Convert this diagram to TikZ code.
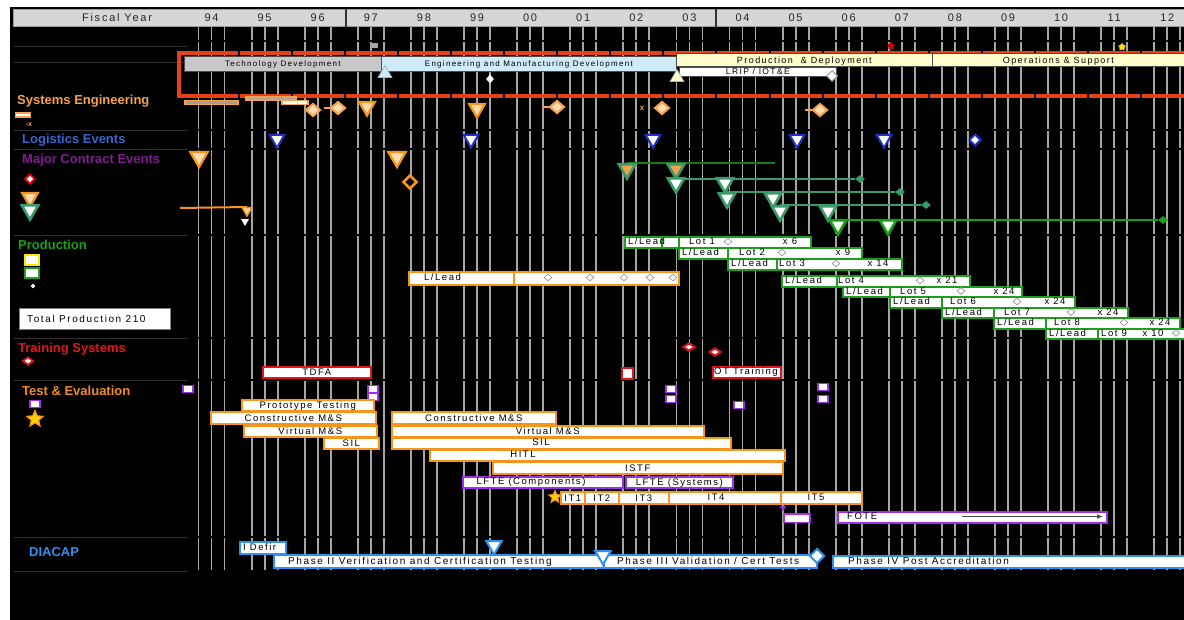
\documentclass[tikz,border=0pt]{standalone}
\usepackage{fontspec}
\setmainfont{Liberation Sans}[LetterSpace=16]
\newfontfamily\catfont{Liberation Sans}
\usetikzlibrary{shapes.geometric,arrows.meta}
\newcommand\fsz[1]{\fontsize{#1}{#1}\selectfont}
\definecolor{hdrgray}{HTML}{D6D6D6}
\definecolor{gridgray}{HTML}{A6A6A6}
\definecolor{redl}{HTML}{E5401A}
\definecolor{tdgray}{HTML}{C8C8C8}
\definecolor{emdblue}{HTML}{CFEAF8}
\definecolor{pdyellow}{HTML}{FFFFCC}
\definecolor{seorange}{HTML}{F6A24E}
\definecolor{barorange}{HTML}{F7941D}
\definecolor{lightorange}{HTML}{FFDDB0}
\definecolor{logblue}{HTML}{3A66D0}
\definecolor{tridark}{HTML}{2030C0}
\definecolor{mcpurple}{HTML}{7E1E8E}
\definecolor{prodgreen}{HTML}{1E9E1E}
\definecolor{seagreen}{HTML}{3A9A6A}
\definecolor{darkgr}{HTML}{1C7A1C}
\definecolor{brightgr}{HTML}{18A018}
\definecolor{trred}{HTML}{E2141E}
\definecolor{teorange}{HTML}{F28C1C}
\definecolor{tepurple}{HTML}{A030E8}
\definecolor{diablue}{HTML}{2E90F0}
\definecolor{sepgray}{HTML}{303030}
\newcommand\bx[7]{\node[#1,anchor=north west,minimum width={(#5-#3)*1pt},minimum height={(#6-#4)*1pt}] (#2) at (#3,#4) {#7};}
\tikzset{
 vl/.style={gridgray,line width=1.8pt},
 sepl/.style={sepgray,line width=0.8pt},
 hdr/.style={fill=hdrgray,draw=gray!80,line width=0.6pt,inner sep=0pt},
 yr/.style={font=\fsz{11},text=black!85,inner sep=0pt,text height=8.9pt,text depth=1pt},
 ph/.style={draw=gray!60!black,line width=0.7pt,inner sep=0pt,font=\fsz{8},text height=6.7pt,text depth=1pt},
 bb/.style={fill=white,line width=1.6pt,inner sep=0pt,font=\fsz{9.5},text height=7.8pt,text depth=1pt},
 ob/.style={bb,draw=barorange},
 gb/.style={bb,draw=prodgreen},
 pb/.style={bb,draw=tepurple},
 db/.style={bb,draw=diablue},
 rb/.style={bb,draw=trred},
 cat/.style={font=\catfont\bfseries\fsz{13},anchor=west,inner sep=0pt},
 tri/.style={regular polygon,regular polygon sides=3,shape border rotate=180,inner sep=0pt,anchor=north},
 otri/.style={tri,fill=lightorange,draw=barorange,line width=2.2pt,minimum size=18pt},
 btri/.style={tri,fill=white,draw=tridark,line width=2pt,minimum size=17pt},
 gtri/.style={tri,fill=white,draw=seagreen,line width=2.6pt,minimum size=19pt},
 dtri/.style={tri,fill=white,draw=diablue,line width=2pt,minimum size=18pt},
 odia/.style={diamond,fill=lightorange,draw=seorange,line width=2pt,minimum width=15pt,minimum height=13pt,inner sep=0pt},
 wdia/.style={diamond,fill=white,draw=gray!80,line width=0.7pt,minimum width=8pt,minimum height=7pt,inner sep=0pt},
 pfl/.style={fill=white,draw=tepurple,line width=1.6pt,minimum width=10pt,minimum height=7pt,inner sep=0pt},
 lt/.style={anchor=west,inner sep=0pt,font=\fsz{9.5},text height=7.8pt,text depth=1pt},
 ct/.style={inner sep=0pt,font=\fsz{9.5},text height=7.8pt,text depth=1pt},
 dt/.style={lt,font=\fsz{10},text height=8.2pt},
 gline/.style={line width=2.2pt},
 gend/.style={diamond,minimum width=10pt,minimum height=8pt,inner sep=0pt},
}
\begin{document}
\begin{tikzpicture}[x=1pt,y=-1pt]
\useasboundingbox (0,0) rectangle (1184,620);
\fill[white] (0,0) rectangle (1184,620);
\fill[black] (10,7) rectangle (1184,620);
% header
\node[hdr,anchor=north west,minimum width=333pt,minimum height=17pt] (hA) at (13,9) {};
\node[hdr,anchor=north west,minimum width=370pt,minimum height=17pt] (hB) at (346,9) {};
\node[hdr,anchor=north west,minimum width=468pt,minimum height=17pt] (hC) at (716,9) {};
\draw[gray!40!black,line width=1.3pt] (hB.north west) -- (hB.south west) (hC.north west) -- (hC.south west);
\node[yr] (fy) at (117,17.5) {Fiscal Year};
\foreach \t [count=\i from 0] in {94,95,96,97,98,99,00,01,02,03,04,05,06,07,08,09,10,11,12}
  \node[yr] (yr\i) at ({211.5+53.1*\i},17.5) {\t};
% grid
\foreach \k in {0,...,18}{
 \foreach \d in {-13,0,13}{
  \foreach \a/\b in {27/40,42/129,131/148,150/234,236/337,339/379,381/536,538/570}{
   \draw[vl] ({211.5+53.1*\k+\d},\a) -- ({211.5+53.1*\k+\d},\b);
 }}}
\foreach \yy in {46,62,130,149,235,338,380,537,571}
  \draw[sepl] (14,\yy) -- (188,\yy);
% red frame
\draw[redl,line width=3.2pt] (177,53) -- (1184,53);
\draw[redl,line width=3.2pt] (177,96) -- (1184,96);
\draw[redl,line width=4pt] (179,52) -- (179,98);
\foreach \k in {0,...,17}{
  \fill[black] ({237.5+53.1*\k},51) rectangle ++(2,4);
  \fill[black] ({237.5+53.1*\k},94) rectangle ++(2,4);
}
% phases
\bx{ph,fill=tdgray}{td}{184}{56}{381}{71}{Technology Development}
\bx{ph,fill=emdblue}{emd}{381}{56}{676}{71}{Engineering and Manufacturing Development}
\bx{ph,fill=pdyellow,font=\fsz{9},text height=7.4pt}{pd}{676}{53}{932}{66}{Production \ \& Deployment}
\bx{ph,fill=pdyellow,font=\fsz{9},text height=7.4pt}{os}{932}{53}{1184}{66}{Operations \& Support}
\bx{ph,fill=white,font=\fsz{8.5},text height=7pt}{lrip}{679}{67}{836}{76}{LRIP / IOT\&E}
\node[regular polygon,regular polygon sides=3,anchor=south,fill=emdblue,draw=gray!60,line width=0.8pt,minimum size=16pt,inner sep=0pt] (msA) at (385,78) {};
\node[regular polygon,regular polygon sides=3,anchor=south,fill=pdyellow,draw=gray!60,line width=0.8pt,minimum size=16pt,inner sep=0pt] (msC) at (677,82) {};
\node[wdia,minimum width=11pt,minimum height=11pt,line width=1pt] (frp) at (832,76) {};
\node[wdia,draw=white,minimum width=7pt,minimum height=8pt] (wd1) at (490,79) {};
\node[fill=gray!70,minimum width=6pt,minimum height=5pt,inner sep=0pt] (gsq) at (375,45.5) {};
\node[star,star points=5,fill=red!80!black,minimum size=8pt,inner sep=0pt] (rstar) at (891,46) {};
\node[star,star points=5,fill=yellow!80!orange,draw=black!60,minimum size=8pt,inner sep=0pt] (ystar) at (1122,47) {};
% ===== Systems Engineering
\node[cat,text=seorange] (lse) at (17,101) {Systems Engineering};
\node[fill=white,draw=seorange,line width=1.3pt,minimum width=15pt,minimum height=4pt,inner sep=0pt] (lse1) at (23,115) {};
\node[text=seorange,inner sep=0pt,font=\catfont\bfseries\fsz{7}] (lse2) at (29,124.5) {-x};
\node[fill=gray!75,draw=seorange,line width=1.2pt,minimum width=53pt,minimum height=4pt,inner sep=0pt] (seb1) at (211.5,102.5) {};
\node[fill=gray!75,draw=seorange,line width=1.2pt,minimum width=50pt,minimum height=3pt,inner sep=0pt] (seb2) at (271,98.5) {};
\node[fill=white,draw=seorange,line width=1.2pt,minimum width=26pt,minimum height=4pt,inner sep=0pt] (seb3) at (295,102.5) {};
\foreach \n/\x/\y in {sd1/313/110,sd2/338/108,sd3/557/107,sd4/662/108,sd5/820/110}
  \node[odia] (\n) at (\x,\y) {};
\draw[seorange,line width=2pt] (sd2.west) -- ++(-6,0);
\draw[seorange,line width=2pt] (sd3.west) -- ++(-7,0);
\draw[seorange,line width=2pt] (sd5.west) -- ++(-7,0);
\node[otri] (st1) at (367,101) {};
\node[otri] (st2) at (477,103) {};
\node[text=seorange,inner sep=0pt,font=\catfont\bfseries\fsz{8}] (sx) at (642,108) {x};
% ===== Logistics
\node[cat,text=logblue] (llog) at (22,140) {Logistics Events};
\foreach \n/\x in {lt1/277,lt2/471,lt3/653,lt4/797,lt5/884}
  \node[btri] (\n) at (\x,134) {};
\node[diamond,fill=white,draw=tridark,line width=2pt,minimum size=12pt,inner sep=0pt] (ld1) at (975,140) {};
% ===== Major contract events
\node[cat,text=mcpurple] (lmc) at (22,160) {Major Contract Events};
\node[diamond,fill=white,draw=red,line width=1.8pt,minimum size=10pt,inner sep=0pt] (lmc1) at (30,179) {};
\node[otri] (lmc2) at (30,192) {};
\node[gtri] (lmc3) at (30,204) {};
\node[otri,minimum size=20pt] (mt1) at (199,151) {};
\node[otri,minimum size=20pt] (mt2) at (397,151) {};
\node[diamond,fill=black,draw=barorange,line width=2.6pt,minimum size=14pt,inner sep=0pt] (md1) at (410,182) {};
\coordinate (ol1) at (180,208);
\node[otri,minimum size=11pt,line width=1.5pt] (mt3) at (247,207) {};
\draw[barorange,line width=2pt] (ol1) -- (mt3.north);
\node[tri,fill=white,minimum size=9pt] (mt4) at (245,219) {};
% green lines
\coordinate (g1s) at (627,163); \coordinate (g1e) at (775,163);
\draw[gline,darkgr] (g1s) -- (g1e);
\coordinate (g2s) at (676,179); \node[gend,fill=seagreen] (g2e) at (860,179) {};
\draw[gline,seagreen] (g2s) -- (g2e);
\coordinate (g3s) at (727,192); \node[gend,fill=seagreen] (g3e) at (900,192) {};
\draw[gline,seagreen] (g3s) -- (g3e);
\coordinate (g4s) at (780,205); \node[gend,fill=seagreen] (g4e) at (926,205) {};
\draw[gline,seagreen] (g4s) -- (g4e);
\coordinate (g5s) at (836,220); \node[gend,fill=brightgr] (g5e) at (1163,220) {};
\draw[gline,brightgr] (g5s) -- (g5e);
\node[gtri,fill=seorange] (gt11) at (627,163) {};
\node[gtri,fill=seorange] (gt12) at (676,163) {};
\node[gtri] (gt21) at (676,177) {};
\node[gtri] (gt22) at (725,177) {};
\node[gtri] (gt31) at (727,192) {};
\node[gtri] (gt32) at (773,192) {};
\node[gtri] (gt41) at (780,205) {};
\node[gtri] (gt42) at (828,205) {};
\node[gtri,draw=brightgr] (gt51) at (838,219) {};
\node[gtri,draw=brightgr] (gt52) at (888,219) {};
% ===== Production
\node[cat,text=prodgreen] (lpr) at (18,245) {Production};
\node[fill=white,draw=yellow!90!orange,line width=1.6pt,minimum width=14pt,minimum height=10pt,inner sep=0pt] (lpr1) at (32,260) {};
\node[fill=white,draw=prodgreen,line width=1.6pt,minimum width=14pt,minimum height=10pt,inner sep=0pt] (lpr2) at (32,273) {};
\node[diamond,fill=white,minimum size=5pt,inner sep=0pt] (lpr3) at (33,286) {};
\bx{fill=white,draw=gray,line width=0.6pt,inner sep=0pt}{tot}{19}{308}{170}{329}{}
\node[dt] (tott) at (27,318.5) {Total Production 210};
\bx{ob}{oll}{408}{271}{513}{284}{}
\bx{ob}{olp}{513}{271}{678}{284}{}
\node[lt] (ollt) at (424,277.5) {L/Lead};
\foreach \x [count=\i] in {548,590,624,650,673} \node[wdia] (od\i) at (\x,277.5) {};
% lots
\bx{gb}{ll1a}{624}{236}{661}{247}{}
\bx{gb}{ll1b}{661}{236}{678}{247}{}
\node[lt] (ll1t) at (628,241.5) {L/Lead};
\foreach \i/\la/\lb/\lc/\ya/\yb/\tx/\dx/\xx/\xn in {
  1/661/678/810/236/247/689/728/790/x 6,
  2/678/727/861/247/258/739/782/843/x 9,
  3/727/776/901/258/269/779/836/878/x 14,
  4/781/836/969/275/286/838/920/947/x 21,
  5/842/889/1021/286/296/900/961/1004/x 24,
  6/889/941/1074/296/307/950/1017/1055/x 24,
  7/941/993/1127/307/317/1004/1071/1108/x 24,
  8/993/1045/1179/317/328/1054/1124/1160/x 24,
  9/1045/1097/1190/328/338/1101/1176/1153/x 10}{
  \ifnum\i>1
   \bx{gb}{ll\i}{\la}{\ya}{\lb}{\yb}{}
   \node[lt] (llt\i) at ({\la+4},{(\ya+\yb)/2}) {L/Lead};
  \fi
  \bx{gb}{lot\i}{\lb}{\ya}{\lc}{\yb}{}
  \node[lt] (lott\i) at (\tx,{(\ya+\yb)/2}) {Lot \i};
  \node[wdia] (lotd\i) at (\dx,{(\ya+\yb)/2}) {};
  \node[ct] (lotx\i) at (\xx,{(\ya+\yb)/2}) {\xn};
}
% ===== Training
\node[cat,text=trred] (ltr) at (18,349) {Training Systems};
\node[diamond,fill=white,draw=trred,line width=1.8pt,minimum width=11pt,minimum height=8pt,inner sep=0pt] (ltr1) at (28,361) {};
\node[diamond,fill=white,draw=trred,line width=2pt,minimum width=12pt,minimum height=8pt,inner sep=0pt] (trd1) at (689,347) {};
\node[diamond,fill=white,draw=trred,line width=2pt,minimum width=12pt,minimum height=8pt,inner sep=0pt] (trd2) at (715,352) {};
\bx{rb}{tdfa}{262}{366}{370}{377}{TDFA}
\bx{rb}{trsq}{621}{367}{632}{378}{}
\bx{rb}{otr}{712}{366}{780}{377}{}
\node[lt] (otrt) at (714,371.5) {OT Training};
% ===== Test & Evaluation
\node[cat,text=teorange] (lte) at (22,391) {Test \& Evaluation};
\node[pfl] (lte1) at (35,404) {};
\node[star,star points=5,star point ratio=2.2,fill=yellow!70!orange,draw=barorange,line width=1.2pt,minimum size=17pt,inner sep=0pt] (lte2) at (35,419) {};
\foreach \n/\x/\y in {pf1/188/389,pf2/373/389,pf3/373/397,pf4/671/389,pf5/671/399,pf6/739/405,pf7/823/387,pf8/823/399}
  \node[pfl] (\n) at (\x,\y) {};
\bx{ob}{proto}{241}{399}{373}{410}{Prototype Testing}
\bx{ob}{cms1}{210}{411}{375}{423}{Constructive M\&S}
\bx{ob}{cms2}{391}{411}{555}{423}{Constructive M\&S}
\bx{ob}{vms1}{243}{425}{376}{436}{Virtual M\&S}
\bx{ob}{vms2}{391}{425}{703}{436}{Virtual M\&S}
\bx{ob}{sil1}{323}{437}{378}{448}{SIL}
\bx{ob}{sil2}{391}{437}{730}{448}{}
\node[ct] (sil2t) at (541,442.5) {SIL};
\bx{ob}{hitl}{429}{449}{784}{460}{}
\node[ct] (hitlt) at (523,454.5) {HITL};
\bx{ob}{istf}{492}{461}{782}{473}{ISTF}
\bx{pb}{lftec}{462}{476}{622}{487}{}
\node[ct] (lftect) at (531,481.5) {LFTE (Components)};
\bx{pb}{lftes}{625}{476}{732}{487}{LFTE (Systems)}
\bx{ob}{it1}{560}{491}{584}{503}{IT1}
\bx{ob}{it2}{584}{491}{618}{503}{IT2}
\bx{ob}{it3}{618}{491}{668}{503}{IT3}
\bx{ob}{it4}{668}{491}{780}{503}{}
\node[ct] (it4t) at (716,497) {IT4};
\bx{ob}{it5}{780}{491}{861}{503}{}
\node[ct] (it5t) at (816,497) {IT5};
\node[star,star points=5,star point ratio=2.2,fill=yellow!70!orange,draw=barorange,line width=1pt,minimum size=13pt,inner sep=0pt] (itstar) at (555,497) {};
\node[tri,fill=tepurple,minimum size=7pt] (ptri) at (783,506) {};
\bx{pb}{pbox}{783}{513}{809}{521}{}
\bx{pb}{fote}{837}{511}{1106}{522}{}
\node[lt] (fotet) at (847,516.5) {FOTE};
\coordinate (fa1) at (962,516.5); \coordinate (fa2) at (1103,516.5);
\draw[-{Latex[length=6pt,width=5pt]},black!70,line width=1.2pt] (fa1) -- (fa2);
% ===== DIACAP
\node[cat,text=diablue] (ldi) at (29,552) {DIACAP};
\bx{db}{idef}{239}{541}{285}{553}{}
\node[lt] (idt) at (243,547) {I Defir};
\bx{db}{ph2}{273}{554}{603}{567}{}
\node[dt] (ph2t) at (288,560.5) {Phase II Verification and Certification Testing};
\bx{db}{ph3}{603}{554}{816}{567}{}
\node[dt] (ph3t) at (617,560.5) {Phase III Validation / Cert Tests};
\bx{db}{ph4}{832}{555}{1190}{567}{}
\node[dt] (ph4t) at (848,561) {Phase IV Post Accreditation};
\node[dtri] (dt1) at (494,540) {};
\node[dtri] (dt2) at (603,550) {};
\node[diamond,fill=white,draw=diablue,line width=2pt,minimum size=15pt,inner sep=0pt] (dd1) at (817,556) {};
\end{tikzpicture}
\end{document}
